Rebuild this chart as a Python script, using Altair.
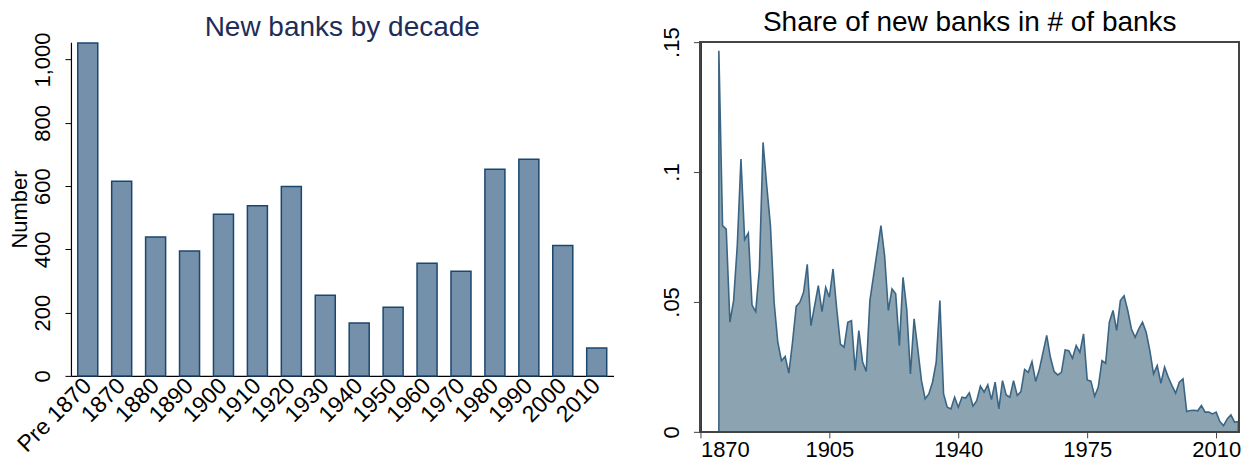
import altair as alt
import pandas as pd

# Left panel: new banks by decade
decades = ["Pre 1870", "1870", "1880", "1890", "1900", "1910", "1920", "1930",
           "1940", "1950", "1960", "1970", "1980", "1990", "2000", "2010"]
new_banks = [1052, 615, 439, 395, 511, 538, 599, 255, 167, 217, 356, 331, 653, 685, 412, 88]

# Right panel: share of new banks in number of banks
years = list(range(1875, 2017))
share = [
    0.1467, 0.0794, 0.0780, 0.0422, 0.0505, 0.0717, 0.1050, 0.0740, 0.0765, 0.0488,
    0.0463, 0.0627, 0.1114, 0.0947, 0.0794, 0.0499, 0.0345, 0.0274, 0.0290, 0.0226,
    0.0345, 0.0483, 0.0499, 0.0537, 0.0645, 0.0409, 0.0486, 0.0563, 0.0463, 0.0556,
    0.0518, 0.0627, 0.0473, 0.0338, 0.0326, 0.0422, 0.0428, 0.0236, 0.0390, 0.0270,
    0.0232, 0.0505, 0.0601, 0.0697, 0.0794, 0.0678, 0.0467, 0.0550, 0.0531, 0.0332,
    0.0595, 0.0473, 0.0223, 0.0435, 0.0319, 0.0197, 0.0127, 0.0146, 0.0191, 0.0268,
    0.0505, 0.0146, 0.0095, 0.0088, 0.0133, 0.0095, 0.0133, 0.0130, 0.0150, 0.0099,
    0.0120, 0.0176, 0.0153, 0.0181, 0.0124, 0.0191, 0.0088, 0.0197, 0.0142, 0.0133,
    0.0197, 0.0140, 0.0155, 0.0240, 0.0229, 0.0270, 0.0194, 0.0240, 0.0306, 0.0371,
    0.0287, 0.0232, 0.0219, 0.0229, 0.0315, 0.0312, 0.0283, 0.0332, 0.0306, 0.0377,
    0.0200, 0.0195, 0.0137, 0.0172, 0.0274, 0.0264, 0.0422, 0.0467, 0.0390, 0.0505,
    0.0524, 0.0467, 0.0396, 0.0364, 0.0396, 0.0422, 0.0383, 0.0313, 0.0223, 0.0255,
    0.0187, 0.0249, 0.0210, 0.0178, 0.0149, 0.0191, 0.0204, 0.0078, 0.0082, 0.0083,
    0.0081, 0.0101, 0.0076, 0.0076, 0.0069, 0.0076, 0.0040, 0.0024, 0.0050, 0.0065,
    0.0037, 0.0040,
]

y_ticks_left = [0, 200, 400, 600, 800, 1000]
x_ticks_right = [1870, 1905, 1940, 1975, 2010]
y_ticks_right = [0, 0.05, 0.1, 0.15]

FONT = "Liberation Sans"
bars_df = pd.DataFrame({"decade": decades, "n": new_banks})
area_df = pd.DataFrame({"year": years[:len(share)], "share": share})

LW, LH = 543, 334
RW, RH = 539, 390

left = alt.Chart(bars_df).mark_bar(
    color="#7590ab", stroke="#1a476f", strokeWidth=1.5
).encode(
    x=alt.X("decade:N", sort=decades, title=None,
            scale=alt.Scale(paddingInner=0.41, paddingOuter=0.2),
            axis=alt.Axis(labelAngle=315, labelAlign="right", labelBaseline="middle",
                          labelFontSize=23, labelFont=FONT, labelColor="black",
                          ticks=False, domainColor="black", domainWidth=1.2,
                          labelPadding=6, labelOverlap=False)),
    y=alt.Y("n:Q", title="Number",
            scale=alt.Scale(domain=[0, 1055], nice=False),
            axis=alt.Axis(values=y_ticks_left, format=",d", labelAngle=270,
                          labelAlign="center", labelBaseline="bottom",
                          labelFontSize=22, labelFont=FONT, labelColor="black",
                          tickSize=6, tickColor="black", domainColor="black",
                          domainWidth=1.2, labelPadding=10, grid=False,
                          titleFontSize=22, titleFont=FONT, titleFontWeight="normal",
                          titleColor="black", titlePadding=0)),
).properties(
    width=LW, height=LH,
    title=alt.TitleParams("New banks by decade", fontSize=28, font=FONT,
                          fontWeight="normal", color="#1e2d58", offset=-10,
                          frame="group"),
)

area = alt.Chart(area_df).mark_area(
    color="#8ca4b2", opacity=1, stroke="#3b6584", strokeWidth=1.6
).encode(
    x=alt.X("year:Q", title=None,
            scale=alt.Scale(domain=[1870, 2016.2], nice=False, zero=False),
            axis=alt.Axis(values=x_ticks_right, format="d", labelFontSize=22,
                          labelFont=FONT, labelColor="black", tickSize=6,
                          tickColor="#444", domainColor="#444", grid=False,
                          labelPadding=2)),
    y=alt.Y("share:Q", title=None,
            scale=alt.Scale(domain=[0, 0.15], nice=False),
            axis=alt.Axis(values=y_ticks_right,
                          labelExpr="datum.value == 0 ? '0' : replace(format(datum.value, '.2~f'), /^0/, '')",
                          labelAngle=270, labelAlign="center", labelBaseline="bottom",
                          labelFontSize=22, labelFont=FONT, labelColor="black",
                          tickSize=7, tickColor="#444", domainColor="#444",
                          grid=False, labelPadding=10)),
)

frame = alt.Chart(area_df).mark_rect(
    fill=None, stroke="#444", strokeWidth=1.2
).encode(
    x=alt.value(0), x2=alt.value(RW), y=alt.value(0), y2=alt.value(RH)
)

right = alt.layer(area, frame).properties(
    width=RW, height=RH,
    title=alt.TitleParams("Share of new banks in # of banks", fontSize=28, font=FONT,
                          fontWeight="normal", color="black", offset=-10,
                          frame="group"),
)

chart = alt.hconcat(left, right, spacing=47).configure(
    padding={"left": 0, "top": 0, "right": 0, "bottom": 0},
    view=alt.ViewConfig(stroke="transparent", strokeWidth=0),
)

chart.save("out.html", embed_options={"renderer": "svg", "actions": False})
